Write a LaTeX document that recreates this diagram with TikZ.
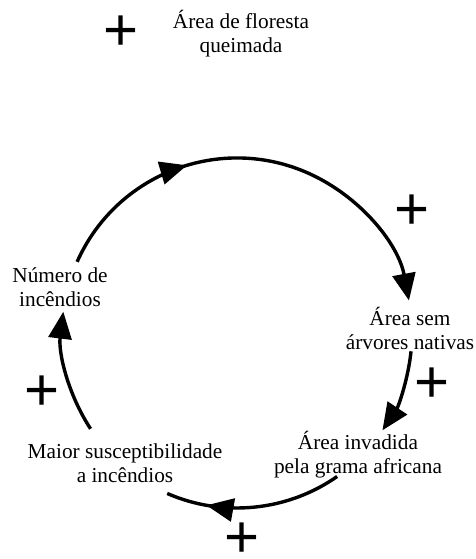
\documentclass[tikz,border=0pt]{standalone}
\usepackage{fontspec}
\setmainfont{Liberation Serif}
\newfontfamily\signfont{Liberation Sans}
\usetikzlibrary{arrows.meta,decorations.markings}
\begin{document}
\begin{tikzpicture}[x=1pt,y=1pt,
  varlabel/.style={align=center, inner sep=0pt, anchor=base,
    font=\fontsize{21.3}{24.5}\selectfont},
  sign/.style={inner sep=0pt, font=\signfont\fontsize{60}{60}\selectfont},
  link/.style={line width=3.4pt},
  headed/.style={link, -{Triangle[length=27pt,width=23pt]}},
  midhead/.style={postaction={decorate}, decoration={markings,
    mark=at position #1 with {\arrow{Triangle[length=27pt,width=23pt]}}}}]
\useasboundingbox (0,0) rectangle (475,559);

% centre of the causal loop
\coordinate (O) at (237,226);

% variables (anchored on the baseline of their last line)
\node[varlabel] (fogo)     at (241,506) {Área de floresta\\queimada};
\node[varlabel] (numero)   at (60,252)  {Número de\\incêndios};
\node[varlabel] (semarv)   at (410,209) {Área sem\\árvores nativas};
\node[varlabel] (invadida) at (358,85)  {Área invadida\\pela grama africana};
\node[varlabel] (maior)    at (125,76)  {Maior susceptibilidade\\a incêndios};

% polarity signs
\node[sign] (s0) at (121,526) {+};
\node[sign] (s1) at (412,347) {+};
\node[sign] (s2) at (432,174) {+};
\node[sign] (s3) at (42,166)  {+};
\node[sign] (s4) at (242,19)  {+};

% arc end points on the loop
\coordinate (a1) at ([shift={(156:175)}]O);
\coordinate (a2) at ([shift={(-6:175)}]O);
\coordinate (a3) at ([shift={(-55.1:175)}]O);
\coordinate (a4) at ([shift={(213.2:175)}]O);

% loop links
\draw[headed, midhead=0.34] (a1) arc[start angle=156, end angle=10.7, radius=175pt];
\draw[headed] (a2) arc[start angle=-6, end angle=-33.8, radius=175pt];
\draw[link, midhead=0.77] (a3) arc[start angle=-55.1, end angle=-113.5, radius=175pt];
\draw[headed] (a4) arc[start angle=213.2, end angle=173, radius=175pt];
\end{tikzpicture}
\end{document}
